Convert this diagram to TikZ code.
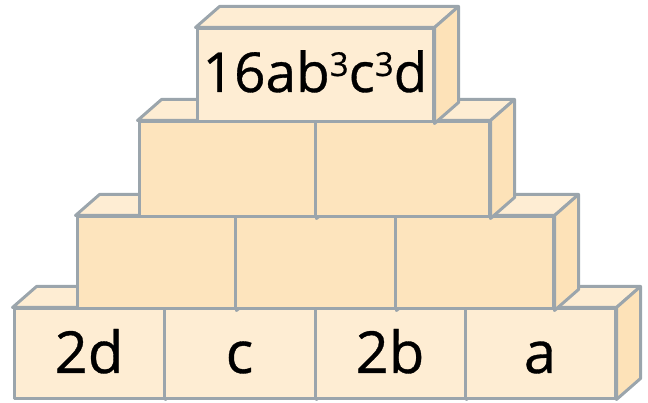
\documentclass[tikz,border=0pt]{standalone}
\usepackage{fontspec}
\setmainfont{Open Sans}
\newfontfamily\labelfont{Open Sans}[BoldFont={Open Sans}, BoldFeatures={FakeBold=0.6}]
\usetikzlibrary{calc}
\definecolor{edge}{HTML}{9BA5AC}
\definecolor{frontlight}{HTML}{FEEDD3}
\definecolor{frontdark}{HTML}{FDE4BD}
\definecolor{topc}{HTML}{FEEDD3}
\definecolor{sidec}{HTML}{FDE2B8}
\newcommand\supthree{\raisebox{16pt}{\fontsize{33}{33}\selectfont 3}}
\tikzset{
  every path/.style={line width=3pt, line join=round},
  brick/.style={draw=edge, line width=3pt, inner sep=0pt, minimum width=#1,
    font=\labelfont\bfseries\fontsize{58}{60}\selectfont, text height=42pt, text depth=3pt},
  lightbrick/.style={brick=#1, fill=frontlight},
  darkbrick/.style={brick=#1, fill=frontdark},
  topface/.style={draw=edge, fill=topc},
  sideface/.style={draw=edge, fill=sidec},
}
\newcommand\brickfaces[1]{%
  \filldraw[topface] (#1.north west) -- ++(24,-21) -- ($(#1.north east)+(24,-21)$) -- (#1.north east) -- cycle;
  \filldraw[sideface] (#1.north east) -- ++(24,-21) -- ($(#1.south east)+(24,-21)$) -- (#1.south east) -- cycle;
}
\begin{document}
\begin{tikzpicture}[x=1pt,y=-1pt]
\useasboundingbox (0,0) rectangle (648,403);
% row 1
\node[lightbrick=150pt, minimum height=89pt] (a1) at (89,353.5) {};
\brickfaces{a1}\node[lightbrick=150pt, minimum height=89pt] at (a1) {2d};
\node[lightbrick=151pt, minimum height=89pt] (a2) at (239.5,353.5) {};
\brickfaces{a2}\node[lightbrick=151pt, minimum height=89pt] at (a2) {c};
\node[lightbrick=150pt, minimum height=89pt] (a3) at (390,353.5) {};
\brickfaces{a3}\node[lightbrick=150pt, minimum height=89pt] at (a3) {2b};
\node[lightbrick=150pt, minimum height=89pt] (a4) at (540,353.5) {};
\brickfaces{a4}\node[lightbrick=150pt, minimum height=89pt] at (a4) {a};
% row 2
\node[darkbrick=158pt, minimum height=92pt] (b1) at (156,263) {};
\brickfaces{b1}\node[darkbrick=158pt, minimum height=92pt] at (b1) {};
\node[darkbrick=160pt, minimum height=92pt] (b2) at (315,263) {};
\brickfaces{b2}\node[darkbrick=160pt, minimum height=92pt] at (b2) {};
\node[darkbrick=158pt, minimum height=92pt] (b3) at (474,263) {};
\brickfaces{b3}\node[darkbrick=158pt, minimum height=92pt] at (b3) {};
% row 3
\node[darkbrick=176pt, minimum height=95pt] (c1) at (227,169.5) {};
\brickfaces{c1}\node[darkbrick=176pt, minimum height=95pt] at (c1) {};
\node[darkbrick=174pt, minimum height=95pt] (c2) at (402,169.5) {};
\brickfaces{c2}\node[darkbrick=174pt, minimum height=95pt] at (c2) {};
% row 4
\node[lightbrick=236pt, minimum height=93pt] (d1) at (315,75.5) {};
\brickfaces{d1}\node[lightbrick=236pt, minimum height=93pt, text height=36pt, font=\labelfont\bfseries\fontsize{55}{58}\selectfont] at (d1) {16ab\supthree c\supthree d};
\end{tikzpicture}
\end{document}
